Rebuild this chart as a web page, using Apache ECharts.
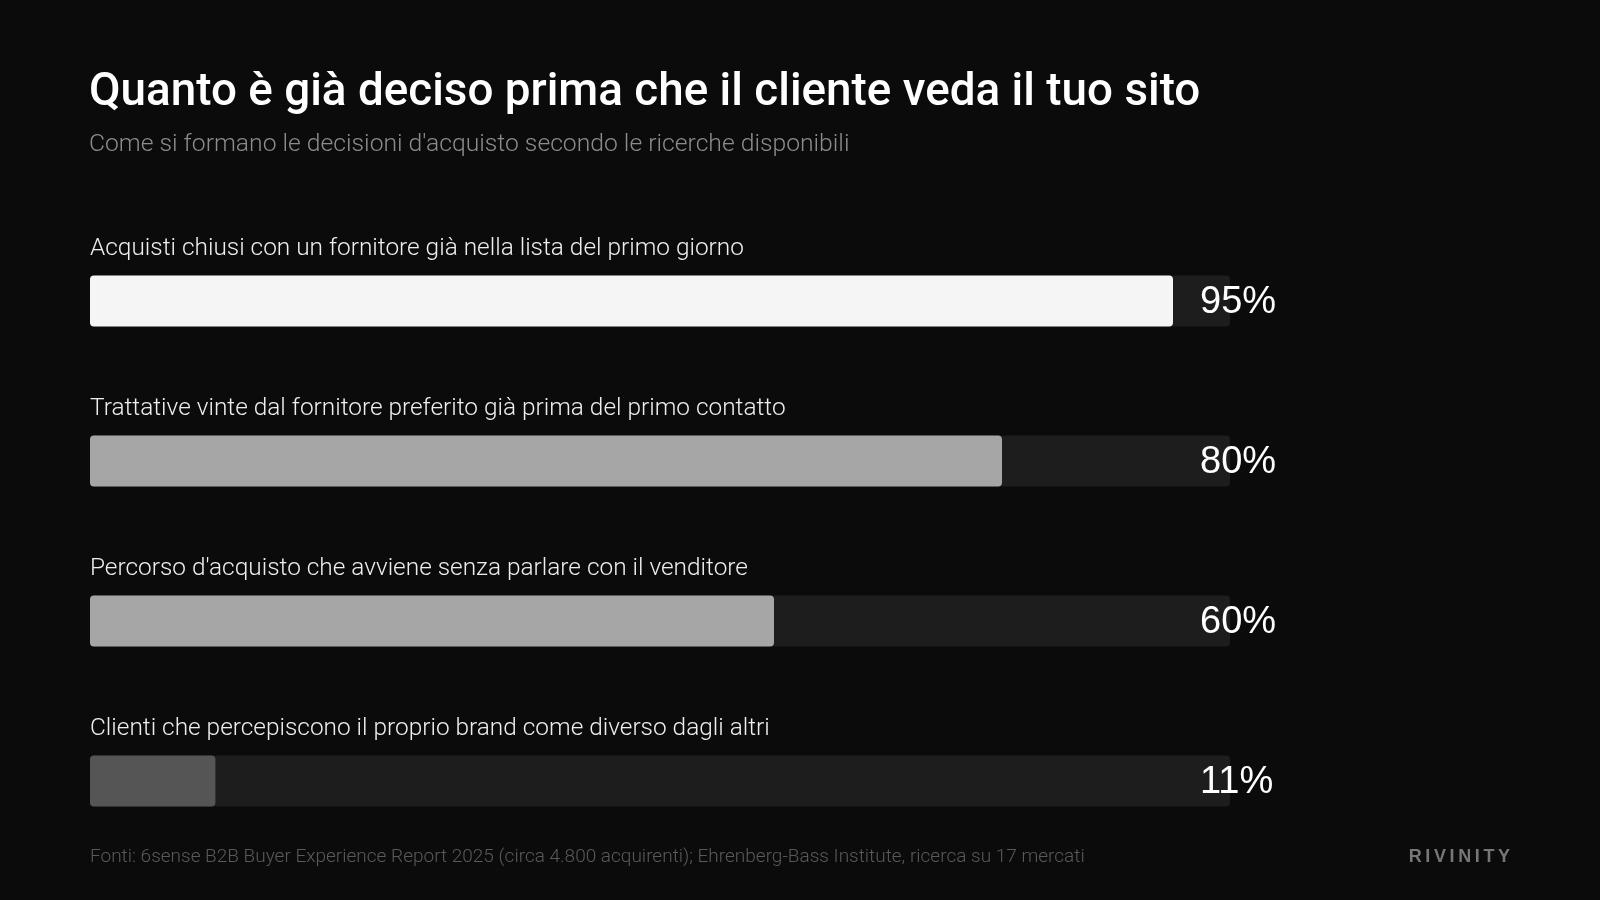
<!DOCTYPE html>
<html>
<head>
<meta charset="utf-8">
<style>
html,body{margin:0;padding:0;background:#0b0b0b;}
#chart{width:1600px;height:900px;}
</style>
<script src="https://cdn.jsdelivr.net/npm/echarts@6/dist/echarts.min.js"></script>
</head>
<body>
<div id="chart"></div>
<script>
const titleText = "Quanto è già deciso prima che il cliente veda il tuo sito";
const subtitleText = "Come si formano le decisioni d'acquisto secondo le ricerche disponibili";
const categories = [
  "Acquisti chiusi con un fornitore già nella lista del primo giorno",
  "Trattative vinte dal fornitore preferito già prima del primo contatto",
  "Percorso d'acquisto che avviene senza parlare con il venditore",
  "Clienti che percepiscono il proprio brand come diverso dagli altri"
];
const values = [95, 80, 60, 11];
const barColors = ["#f5f5f5", "#a6a6a6", "#a6a6a6", "#555555"];
const trackMax = 100;
const sourceText = "Fonti: 6sense B2B Buyer Experience Report 2025 (circa 4.800 acquirenti); Ehrenberg-Bass Institute, ricerca su 17 mercati";
const brandText = "RIVINITY";

const FONT = "'Liberation Sans', Arial, Helvetica, sans-serif";
const LIGHT = "Roboto, 'Liberation Sans', sans-serif";

const chart = echarts.init(document.getElementById('chart'));
chart.setOption({
  backgroundColor: '#0b0b0b',
  animation: false,
  title: {
    text: titleText,
    subtext: subtitleText,
    left: 89,
    top: 69,
    padding: 0,
    itemGap: 11,
    textStyle: { color: '#ffffff', fontSize: 45.8, fontWeight: 500, fontFamily: LIGHT, lineHeight: 50 },
    subtextStyle: { color: '#8c8c8c', fontSize: 24.7, fontWeight: 300, fontFamily: LIGHT, lineHeight: 30 }
  },
  grid: { left: 90, right: 370, top: 221, bottom: 39, containLabel: false },
  xAxis: { type: 'value', min: 0, max: trackMax, show: false },
  yAxis: { type: 'category', data: categories, inverse: true, show: false },
  series: [
    {
      type: 'bar', barWidth: 51, barGap: '-100%', silent: true,
      data: categories.map(() => trackMax),
      itemStyle: { color: '#1d1d1d', borderRadius: 4 },
      label: {
        show: true, position: [0, -27], align: 'left', verticalAlign: 'middle',
        formatter: p => categories[p.dataIndex],
        color: '#eeeeee', fontSize: 24.4, fontWeight: 300, fontFamily: LIGHT
      },
      z: 1
    },
    {
      type: 'bar', barWidth: 51, barGap: '-100%',
      data: values.map((v, i) => ({ value: v, itemStyle: { color: barColors[i] } })),
      itemStyle: { borderRadius: 4 },
      z: 2
    },
    {
      type: 'bar', barWidth: 51, barGap: '-100%', silent: true,
      data: categories.map(() => trackMax),
      itemStyle: { color: 'rgba(0,0,0,0)' },
      label: {
        show: true, position: 'right', distance: -30, align: 'left', verticalAlign: 'middle',
        offset: [0, 2],
        formatter: p => values[p.dataIndex] + '%',
        color: '#ffffff', fontSize: 38, fontFamily: FONT
      },
      z: 3
    }
  ],
  graphic: [
    {
      type: 'text', left: 90, top: 848,
      style: { text: sourceText, fill: '#5a5a5a', fontSize: 19, fontFamily: LIGHT, fontWeight: 300 }
    },
    {
      type: 'text', right: 90, top: 848,
      style: { text: brandText.split('').join('\u2009'), fill: '#777777', fontSize: 18, fontWeight: 'bold', fontFamily: FONT }
    }
  ]
});
</script>
</body>
</html>
